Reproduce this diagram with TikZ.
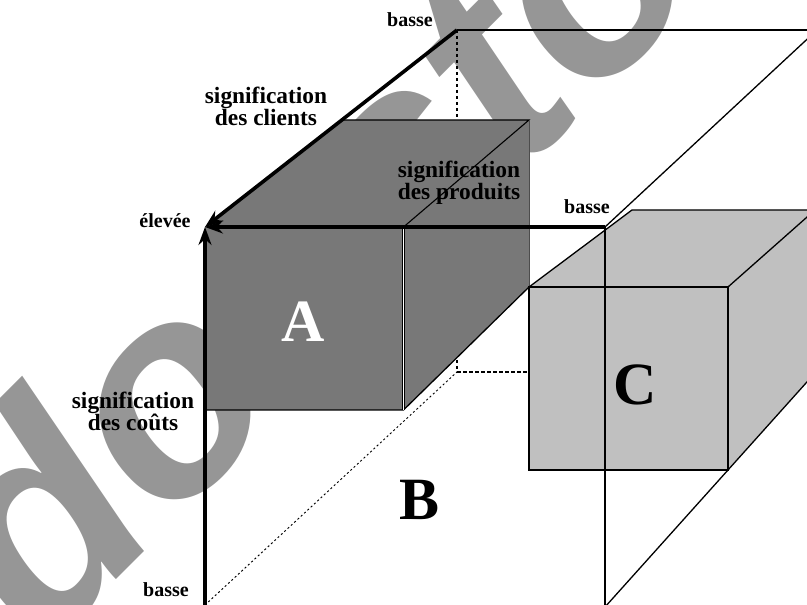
\documentclass[tikz,border=0pt]{standalone}
\usepackage{fontspec}
\setmainfont{Liberation Serif}
\newfontfamily\markfont{Liberation Sans}
\usetikzlibrary{arrows.meta}

\definecolor{boxA}{RGB}{120,120,120}
\definecolor{boxC}{RGB}{192,192,192}
\definecolor{markgray}{RGB}{150,150,150}

\tikzset{
  axis/.style={line width=3.6pt,-{Stealth[length=18pt,width=13pt,inset=6pt]}},
  edge/.style={line width=1.3pt},
  hidden/.style={line width=1.2pt,dash pattern=on 3.5pt off 2.5pt},
  hiddenfar/.style={line width=1pt,dash pattern=on 2pt off 2.5pt},
  small/.style={font=\bfseries\fontsize{20}{22}\selectfont,inner sep=0pt},
  axislabel/.style={font=\bfseries\fontsize{23.4}{22}\selectfont,align=center,inner sep=0pt},
  letter/.style={font=\bfseries\fontsize{60}{60}\selectfont,inner sep=0pt}
}

\begin{document}
\begin{tikzpicture}[x=1pt,y=1pt]
\useasboundingbox (0,0) rectangle (807,605);
\clip (0,0) rectangle (807,605);

\node[anchor=base west,rotate=45,inner sep=0pt,text=markgray,
  font=\markfont\bfseries\itshape\fontsize{290}{290}\selectfont] (mark) at (42,-49) {docstoc};

% corners of the big block B
\coordinate (high) at (205,378);
\coordinate (costlow) at (205,-2);
\coordinate (prodlow) at (605,378);
\coordinate (clientlow) at (457,575);
\coordinate (Bfbr) at (605,-2);
\coordinate (Bfbl) at (205,0);
\coordinate (Bbtr) at (817,575);
\coordinate (Bbbl) at (457,233);
\coordinate (Bcut) at (529,233);

% corners of A
\coordinate (Afbl) at (205,195);
\coordinate (Afbr) at (403.5,195);
\coordinate (Aftr) at (403.5,378);
\coordinate (Abtl) at (341,485);
\coordinate (Abtr) at (529,485);
\coordinate (Abbr) at (529,318);

% corners of C
\coordinate (Cftl) at (529,318);
\coordinate (Cftr) at (728,318);
\coordinate (Cfbr) at (728,135);
\coordinate (Cfbl) at (529,135);
\coordinate (Cbtl) at (632,395);
\coordinate (Cbtr) at (815,395);
\coordinate (Cbbr) at (815,232);
\coordinate (Cmid) at (605,135);

% hidden edges of B
\draw[hidden] (clientlow) -- (Bbbl) -- (Bcut);
\draw[hiddenfar] (Bfbl) -- (Bbbl);

% box A
\fill[boxA] (Afbl) rectangle (Aftr);
\fill[boxA] (high) -- (Abtl) -- (Abtr) -- (Aftr) -- cycle;
\fill[boxA] (Aftr) -- (Abtr) -- (Abbr) -- (Afbr) -- cycle;
\draw[edge] (Afbl) -- (Afbr) -- (Abbr);
\draw[line width=1pt,double=white,double distance=1.2pt] (Afbr) -- (Aftr);
\draw[line width=1.1pt] (Aftr) -- (Abtr) -- (Abtl);
\draw[line width=0.5pt,black!70] (Abtr) -- (Abbr);

% box C
\fill[boxC] (Cfbl) rectangle (Cftr);
\fill[boxC] (Cftl) -- (Cbtl) -- (Cbtr) -- (Cftr) -- cycle;
\fill[boxC] (Cftr) -- (Cbtr) -- (Cbbr) -- (Cfbr) -- cycle;
\draw[edge] (Cfbl) rectangle (Cftr);
\draw[edge] (Cftl) -- (Cbtl) -- (Cbtr);
\draw[edge] (Cftr) -- (Cbtr);
\draw[edge] (Cfbr) -- (Cbbr);

% visible edges of B
\draw[edge] (clientlow) -- (Bbtr);
\draw[edge] (prodlow) -- (Bbtr);
\draw[line width=1.1pt] (prodlow) -- (Cmid);
\draw[line width=2pt] (Cmid) -- (Bfbr);
\draw[edge] (Bfbr) -- (Cfbr);

% the three axes
\draw[axis] (costlow) -- (high);
\draw[axis] (prodlow) -- (high);
\draw[axis] (clientlow) -- (high);

\node[small,anchor=base] (basse1) at (410,578) {basse};
\node[small,anchor=base] (elevee) at (165,377) {élevée};
\node[small,anchor=base] (basse2) at (587,391) {basse};
\node[small,anchor=base] (basse3) at (166,8) {basse};
\node[axislabel] (clients) at (266,499) {signification\\des clients};
\node[axislabel] (produits) at (459,422) {signification\\des produits};
\node[axislabel] (couts) at (133,194) {signification\\des coûts};
\node[letter,text=white,anchor=base] (A) at (303,263) {A};
\node[letter,anchor=base] (B) at (420,85) {B};
\node[letter,anchor=base] (C) at (635,200) {C};

\end{tikzpicture}
\end{document}
